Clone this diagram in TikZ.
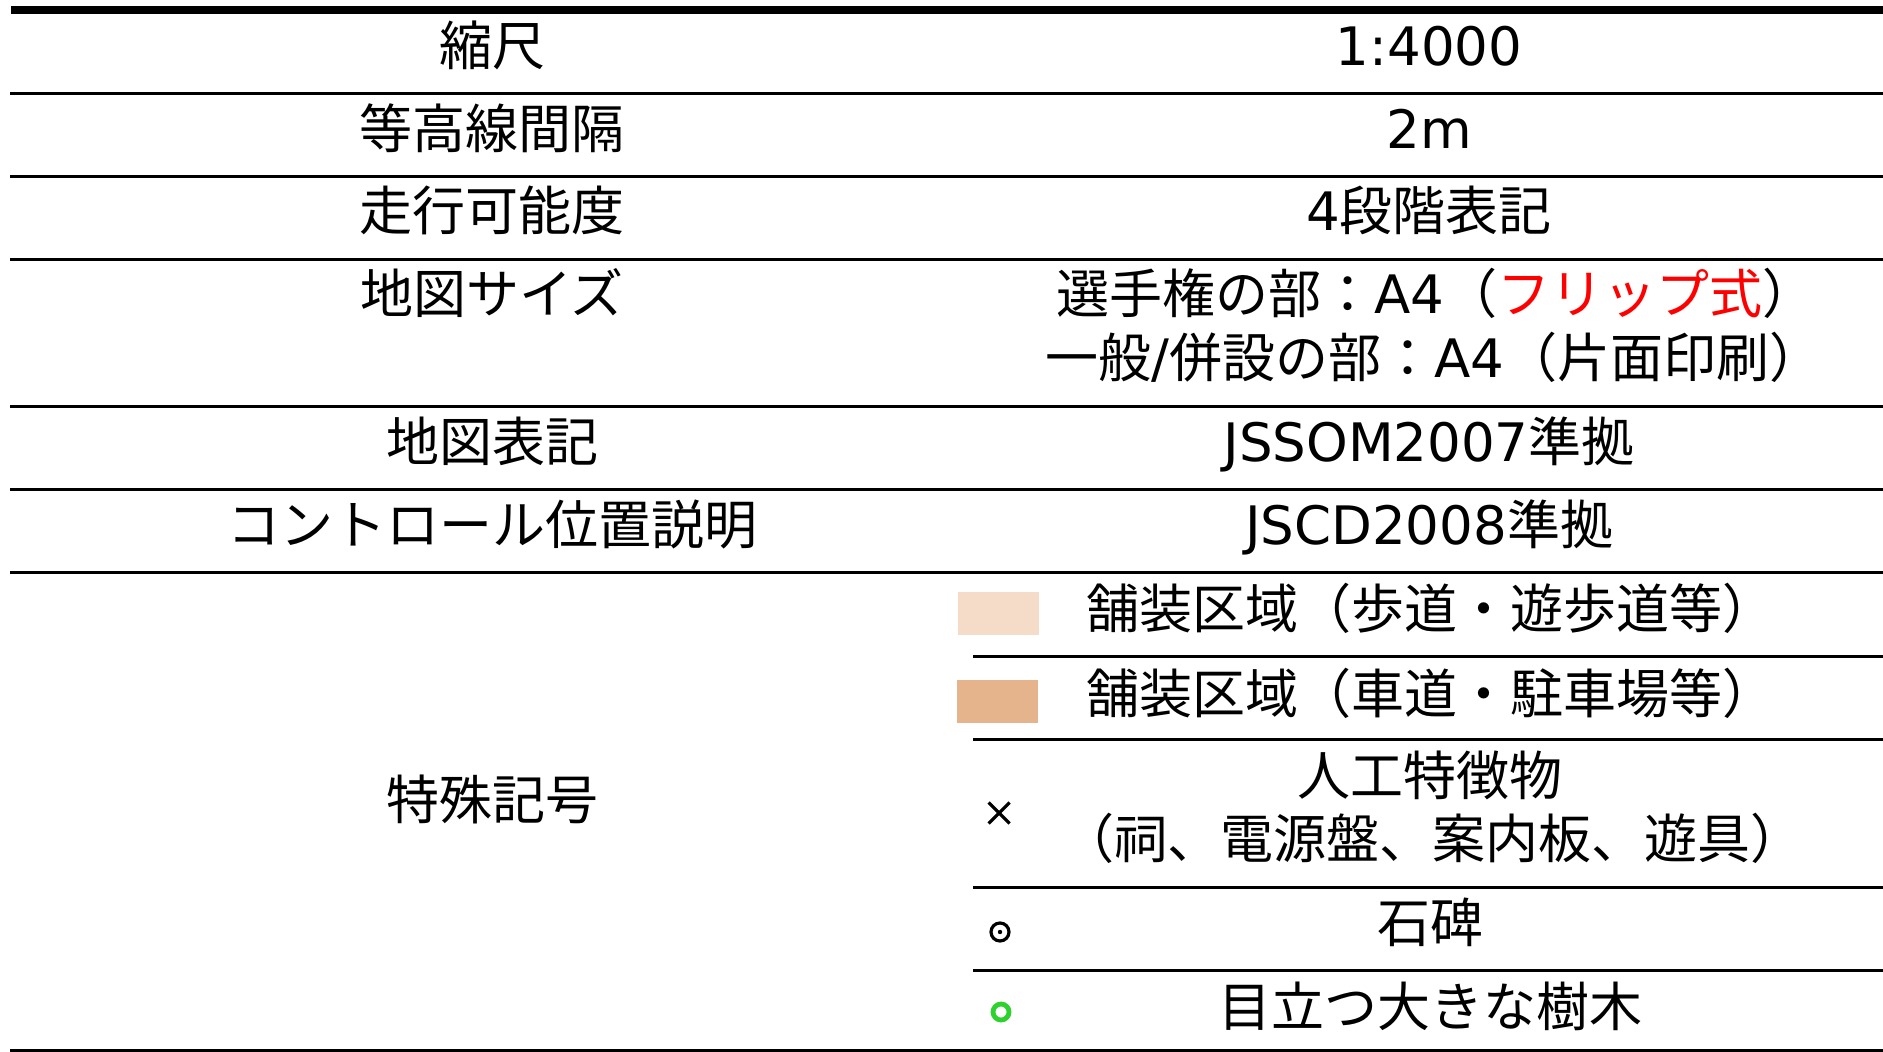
\documentclass[tikz,border=0pt]{standalone}
\usepackage{fontspec}
\setmainfont{Noto Sans CJK JP}
\newfontfamily\latf{DejaVu Sans}
\newcommand\lt[1]{{\latf #1}}
\definecolor{swlight}{HTML}{F5DCC8}
\definecolor{swdark}{HTML}{E6B48C}
\definecolor{treegreen}{HTML}{2ED22E}
\definecolor{flipred}{HTML}{FF0000}
\begin{document}
\begin{tikzpicture}[x=0.5pt,y=-0.5pt,
  txt/.style={inner sep=0pt, anchor=base, font=\fontsize{26.5}{32}\selectfont},
  rule/.style={line width=1.5pt},
  toprule/.style={line width=4pt},
  swatch/.style={inner sep=0pt, minimum width=40.5pt, minimum height=21.5pt}]
\useasboundingbox (0,0) rectangle (1883,1052);
% rules
\draw[toprule] (11,10) -- (1883,10);
\foreach \yy in {93.5,177,260,407,490,573}{\draw[rule] (10,\yy) -- (1883,\yy);}
\foreach \yy in {656,739,887,970}{\draw[rule] (973,\yy) -- (1883,\yy);}
\draw[rule] (10,1050.5) -- (1883,1050.5);
% left column
\node[txt] (l1) at (492,66) {縮尺};
\node[txt] (l2) at (492,149) {等高線間隔};
\node[txt] (l3) at (492,231) {走行可能度};
\node[txt] (l4) at (492,314) {地図サイズ};
\node[txt] (l5) at (492,462) {地図表記};
\node[txt] (l6) at (492,545) {コントロール位置説明};
\node[txt] (l7) at (492,819) {特殊記号};
% right column
\node[txt] (r1) at (1429,66) {\lt{1:4000}};
\node[txt] (r2) at (1429,149) {\lt{2m}};
\node[txt] (r3) at (1429,231) {\lt{4}段階表記};
\node[txt] (r4a) at (1436,314) {選手権の部：\lt{A4}（\textcolor{flipred}{フリップ式}）};
\node[txt] (r4b) at (1434,378) {一般\lt{/}併設の部：\lt{A4}（片面印刷）};
\node[txt] (r5) at (1429,462) {\lt{JSSOM2007}準拠};
\node[txt] (r6) at (1429,545) {\lt{JSCD2008}準拠};
% special symbols
\node[swatch, fill=swlight] (s1) at (998.5,613.5) {};
\node[txt] (t1) at (1431,629) {舗装区域（歩道・遊歩道等）};
\node[swatch, fill=swdark] (s2) at (997,701.5) {};
\node[txt] (t2) at (1431,713) {舗装区域（車道・駐車場等）};
\coordinate (x1) at (999,813);
\draw[line width=1.6pt] ([shift={(-10.5,-10.5)}]x1) -- ([shift={(10.5,10.5)}]x1);
\draw[line width=1.6pt] ([shift={(-10.5,10.5)}]x1) -- ([shift={(10.5,-10.5)}]x1);
\node[txt] (t3a) at (1430,795) {人工特徴物};
\node[txt] (t3b) at (1432,858) {（祠、電源盤、案内板、遊具）};
\coordinate (x2) at (1000,932);
\draw[line width=1.6pt] (x2) circle[radius=4.5pt];
\fill (x2) circle[radius=1.1pt];
\node[txt] (t4) at (1430,942) {石碑};
\coordinate (x3) at (1001,1012);
\draw[treegreen, line width=2.4pt] (x3) circle[radius=4pt];
\node[txt] (t5) at (1430,1026) {目立つ大きな樹木};
\end{tikzpicture}
\end{document}
